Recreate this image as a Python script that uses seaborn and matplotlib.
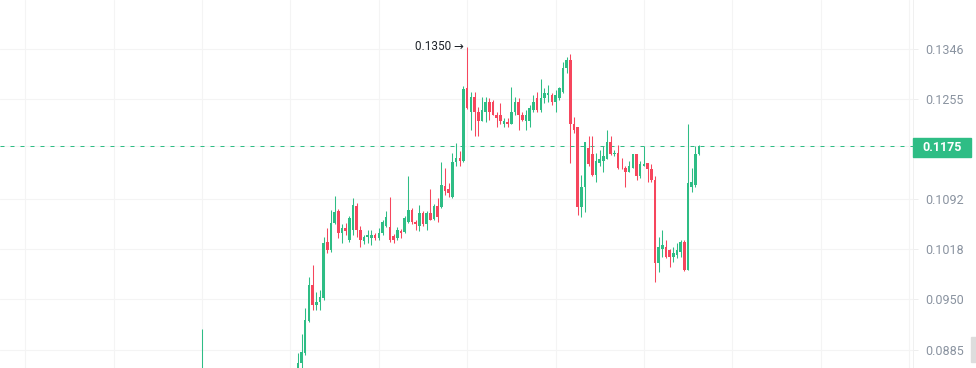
import numpy as np
import pandas as pd
import matplotlib
matplotlib.use("Agg")
import matplotlib.pyplot as plt
import seaborn as sns
from matplotlib.patches import Rectangle

# candle index (time steps); candles 1-25 sit below the visible range
candle_idx = [0] + list(range(26, 136))

opens = [0.0840,
         0.0863, 0.0869, 0.0881, 0.0921, 0.0969, 0.0942, 0.0946, 0.0951, 0.1028, 0.1017,
         0.1056, 0.1074, 0.1042, 0.1049, 0.1031, 0.1046, 0.1082, 0.1046, 0.1030, 0.1036,
         0.1034, 0.1039, 0.1034, 0.1041, 0.1052, 0.1050, 0.1037, 0.1034, 0.1044, 0.1043,
         0.1058, 0.1076, 0.1058, 0.1052, 0.1071, 0.1055, 0.1071, 0.1062, 0.1081, 0.1080,
         0.1112, 0.1108, 0.1095, 0.1150, 0.1156, 0.1152, 0.1275, 0.1232, 0.1259, 0.1233,
         0.1217, 0.1232, 0.1250, 0.1250, 0.1228, 0.1228, 0.1212, 0.1215, 0.1212, 0.1232,
         0.1250, 0.1227, 0.1217, 0.1217, 0.1237, 0.1257, 0.1237, 0.1257, 0.1262, 0.1262,
         0.1250, 0.1257, 0.1268, 0.1311, 0.1326, 0.1212, 0.1207, 0.1080, 0.1111, 0.1173,
         0.1162, 0.1130, 0.1149, 0.1151, 0.1154, 0.1182, 0.1162, 0.1165, 0.1141, 0.1141,
         0.1134, 0.1141, 0.1162, 0.1127, 0.1143, 0.1149, 0.1138, 0.1122, 0.0999, 0.1019,
         0.1021, 0.1017, 0.1007, 0.1010, 0.1014, 0.1028, 0.0989, 0.1111, 0.1114, 0.1162]
highs = [0.0911,
         0.0881, 0.0905, 0.0938, 0.0980, 0.0996, 0.0959, 0.0962, 0.1036, 0.1049, 0.1076,
         0.1097, 0.1077, 0.1054, 0.1056, 0.1067, 0.1094, 0.1086, 0.1052, 0.1039, 0.1046,
         0.1046, 0.1042, 0.1049, 0.1060, 0.1074, 0.1095, 0.1040, 0.1050, 0.1048, 0.1066,
         0.1128, 0.1078, 0.1060, 0.1083, 0.1074, 0.1074, 0.1108, 0.1084, 0.1094, 0.1150,
         0.1141, 0.1117, 0.1164, 0.1181, 0.1167, 0.1278, 0.1350, 0.1268, 0.1268, 0.1242,
         0.1259, 0.1259, 0.1257, 0.1253, 0.1233, 0.1248, 0.1223, 0.1223, 0.1277, 0.1259,
         0.1257, 0.1232, 0.1237, 0.1245, 0.1262, 0.1268, 0.1291, 0.1275, 0.1280, 0.1266,
         0.1271, 0.1277, 0.1322, 0.1331, 0.1337, 0.1225, 0.1207, 0.1129, 0.1182, 0.1192,
         0.1192, 0.1165, 0.1170, 0.1175, 0.1203, 0.1192, 0.1170, 0.1178, 0.1157, 0.1143,
         0.1151, 0.1162, 0.1162, 0.1151, 0.1175, 0.1149, 0.1146, 0.1127, 0.1036, 0.1046,
         0.1031, 0.1019, 0.1021, 0.1027, 0.1031, 0.1031, 0.1212, 0.1141, 0.1175, 0.1177]
lows = [0.0835,
        0.0861, 0.0862, 0.0879, 0.0920, 0.0936, 0.0936, 0.0936, 0.0949, 0.1013, 0.1015,
        0.1055, 0.1034, 0.1027, 0.1039, 0.1029, 0.1039, 0.1036, 0.1021, 0.1026, 0.1027,
        0.1025, 0.1031, 0.1031, 0.1039, 0.1050, 0.1029, 0.1027, 0.1031, 0.1034, 0.1041,
        0.1056, 0.1054, 0.1046, 0.1044, 0.1052, 0.1046, 0.1060, 0.1060, 0.1058, 0.1078,
        0.1098, 0.1095, 0.1094, 0.1143, 0.1143, 0.1150, 0.1238, 0.1203, 0.1192, 0.1192,
        0.1217, 0.1215, 0.1220, 0.1227, 0.1207, 0.1212, 0.1208, 0.1208, 0.1212, 0.1228,
        0.1203, 0.1217, 0.1203, 0.1208, 0.1233, 0.1232, 0.1233, 0.1248, 0.1250, 0.1245,
        0.1233, 0.1253, 0.1266, 0.1302, 0.1149, 0.1198, 0.1068, 0.1065, 0.1073, 0.1143,
        0.1127, 0.1118, 0.1143, 0.1134, 0.1154, 0.1161, 0.1159, 0.1138, 0.1138, 0.1111,
        0.1134, 0.1140, 0.1122, 0.1125, 0.1143, 0.1119, 0.1118, 0.0973, 0.0987, 0.1007,
        0.1006, 0.0994, 0.1000, 0.1006, 0.1007, 0.0988, 0.0989, 0.1103, 0.1111, 0.1161]
closes = [0.0858,
          0.0869, 0.0883, 0.0923, 0.0969, 0.0942, 0.0946, 0.0953, 0.1027, 0.1017, 0.1056,
          0.1073, 0.1042, 0.1049, 0.1045, 0.1064, 0.1083, 0.1046, 0.1031, 0.1036, 0.1038,
          0.1039, 0.1034, 0.1042, 0.1057, 0.1065, 0.1031, 0.1031, 0.1046, 0.1042, 0.1064,
          0.1076, 0.1058, 0.1054, 0.1071, 0.1055, 0.1071, 0.1061, 0.1082, 0.1065, 0.1113,
          0.1105, 0.1101, 0.1150, 0.1156, 0.1151, 0.1273, 0.1240, 0.1259, 0.1232, 0.1217,
          0.1237, 0.1250, 0.1233, 0.1228, 0.1223, 0.1217, 0.1217, 0.1212, 0.1232, 0.1250,
          0.1228, 0.1220, 0.1227, 0.1240, 0.1250, 0.1237, 0.1257, 0.1266, 0.1266, 0.1250,
          0.1262, 0.1275, 0.1311, 0.1326, 0.1212, 0.1203, 0.1080, 0.1111, 0.1182, 0.1146,
          0.1130, 0.1151, 0.1154, 0.1159, 0.1182, 0.1162, 0.1165, 0.1141, 0.1140, 0.1134,
          0.1143, 0.1162, 0.1127, 0.1146, 0.1146, 0.1138, 0.1122, 0.0999, 0.1021, 0.1024,
          0.1007, 0.1007, 0.1013, 0.1017, 0.1028, 0.0989, 0.1116, 0.1118, 0.1162, 0.1175]

price_ticks = [0.0885, 0.0950, 0.1018, 0.1092, 0.1175, 0.1255, 0.1346]
last_price = 0.1175
peak_label = "0.1350"

up_color = "#2ebd85"
down_color = "#f6465d"

df = pd.DataFrame({"idx": candle_idx, "open": opens, "high": highs,
                   "low": lows, "close": closes})
df["up"] = df["close"] >= df["open"]
df["color"] = np.where(df["up"], up_color, down_color)
df["body_low"] = df[["open", "close"]].min(axis=1)
df["body_h"] = (df["close"] - df["open"]).abs().clip(lower=0.00008)

sns.set_style("white")
plt.rcParams["font.family"] = ["Roboto", "DejaVu Sans"]

W, H = 976, 368
fig = plt.figure(figsize=(W / 100, H / 100), dpi=100)
ax = fig.add_axes([0, 0, 913 / W, 1])

ax.set_yscale("log")
ax.set_ylim(0.0863, 0.1441)
ax.set_xlim(-54.9, 193.1)

# grid
ax.set_xticks(np.arange(-48, 193, 24))
ax.set_xticklabels([])
ax.set_yticks(price_ticks)
ax.yaxis.set_minor_locator(matplotlib.ticker.NullLocator())
ax.set_yticklabels([f"{p:.4f}" if p != last_price else "" for p in price_ticks])
ax.grid(True, color="#f4f4f4", linewidth=0.75)
ax.set_axisbelow(True)
ax.yaxis.tick_right()
ax.tick_params(axis="y", length=3.6, width=0.72, color="#eeeeee", pad=5.5,
               labelsize=9, labelcolor="#8a93a0")
ax.tick_params(axis="x", length=0)
for side in ["left", "top", "bottom"]:
    ax.spines[side].set_visible(False)
ax.spines["right"].set_color("#f0f0f0")
ax.spines["right"].set_linewidth(0.72)

# candles
ax.vlines(df["idx"], df["low"], df["high"], colors=df["color"], linewidth=0.75, zorder=3)
ax.bar(df["idx"], df["body_h"], bottom=df["body_low"], width=0.7,
       color=df["color"], linewidth=0, zorder=4)

# last price line
ax.axhline(last_price, color=up_color, linewidth=0.72, dashes=(4, 6), zorder=2)

# peak annotation
peak_row = df.loc[df["high"].idxmax()]
ax.annotate(peak_label + " \u2192", xy=(peak_row["idx"], peak_row["high"]),
            xytext=(-2.5, 0), textcoords="offset points", ha="right", va="center",
            fontsize=8.5, color="#1e2329", family=["Roboto", "DejaVu Sans"])

# current price tag on the axis
fig.patches.append(Rectangle((913 / W, (H - 157) / H), 58 / W, 19 / H,
                             transform=fig.transFigure, color=up_color, zorder=5))
fig.text(942 / W, (H - 147.5) / H, f"{last_price:.4f}", color="white",
         fontsize=9, fontweight="bold", ha="center", va="center", zorder=6)

# scroll handle at the bottom right
fig.patches.append(Rectangle((971 / W, (H - 362) / H), 5 / W, 25 / H,
                             transform=fig.transFigure, color="#dddddd", zorder=5))

fig.savefig("out.png", dpi=100)
